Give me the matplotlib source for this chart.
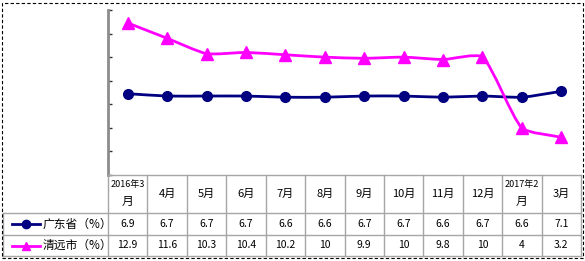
import matplotlib
matplotlib.use("Agg")
import matplotlib.pyplot as plt
import numpy as np
from matplotlib.path import Path
from matplotlib.patches import PathPatch, Rectangle

plt.rcParams['font.family'] = ['Noto Sans CJK SC', 'DejaVu Sans']

months = ["2016年3\n月", "4月", "5月", "6月", "7月", "8月", "9月", "10月", "11月", "12月", "2017年2\n月", "3月"]
guangdong = [6.9, 6.7, 6.7, 6.7, 6.6, 6.6, 6.7, 6.7, 6.6, 6.7, 6.6, 7.1]
qingyuan = [12.9, 11.6, 10.3, 10.4, 10.2, 10, 9.9, 10, 9.8, 10, 4, 3.2]
guangdong_txt = ["6.9", "6.7", "6.7", "6.7", "6.6", "6.6", "6.7", "6.7", "6.6", "6.7", "6.6", "7.1"]
qingyuan_txt = ["12.9", "11.6", "10.3", "10.4", "10.2", "10", "9.9", "10", "9.8", "10", "4", "3.2"]
series_names = ["广东省（%）", "清远市（%）"]
colors = ["#000080", "#FF00FF"]

W, H = 585, 261
fig = plt.figure(figsize=(W / 100, H / 100), dpi=100)

L, R, T, B = 108, 581, 10, 175
ax = fig.add_axes([L / W, (H - B) / H, (R - L) / W, (B - T) / H])
n = len(months)
x = np.arange(n)
ax.set_xlim(-0.5, n - 0.5)
ax.set_ylim(0, 14)
ax.set_yticks(np.arange(0, 15, 2))
ax.tick_params(axis='y', direction='in', length=3, width=1, color='#333333', labelleft=False)
ax.tick_params(axis='x', length=0, labelbottom=False)
for s in ['top', 'right', 'bottom']:
    ax.spines[s].set_visible(False)
ax.spines['left'].set_color('#8c8c8c')
ax.spines['left'].set_linewidth(2)

# pixel scale factors for length-weighted smoothing
sx = (R - L) / n
sy = (B - T) / 14.0


def smooth_path(xs, ys, k=0.2):
    pts = np.column_stack([np.asarray(xs, float) * sx, np.asarray(ys, float) * sy])
    m = len(pts)
    verts = [pts[0]]
    codes = [Path.MOVETO]
    cin = [None] * m
    cout = [None] * m
    for i in range(m):
        p0 = pts[i - 1] if i > 0 else pts[i]
        p2 = pts[i + 1] if i + 1 < m else pts[i]
        tan = p2 - p0
        d_in = np.hypot(*(pts[i] - p0))
        d_out = np.hypot(*(p2 - pts[i]))
        tot = d_in + d_out
        cin[i] = pts[i] - tan * (d_in / tot) * k
        cout[i] = pts[i] + tan * (d_out / tot) * k
    for i in range(m - 1):
        verts += [cout[i], cin[i + 1], pts[i + 1]]
        codes += [Path.CURVE4] * 3
    verts = np.array(verts)
    verts[:, 0] /= sx
    verts[:, 1] /= sy
    return Path(verts, codes)


markers = ['o', '^']
for vals, col, mk in zip([guangdong, qingyuan], colors, markers):
    patch = PathPatch(smooth_path(x, vals), fill=False, edgecolor=col, lw=2, zorder=3)
    ax.add_patch(patch)
    ax.plot(x, vals, linestyle='none', marker=mk, color=col, markersize=7 if mk == 'o' else 8, zorder=4)

# table
TL, TB = 3, 256
tax = fig.add_axes([TL / W, (H - TB) / H, (R - TL) / W, (TB - B) / H])
colw = (R - L) / n
x0 = -0.5 - (L - TL) / colw
tax.set_xlim(x0, n - 0.5)
tax.set_ylim(TB - B, 0)
tax.axis('off')
gc = '#a6a6a6'
rows = [0, 38, 60, 81]
tax.plot([-0.5, n - 0.5], [rows[0], rows[0]], color=gc, lw=1, clip_on=False)
for r in rows[1:]:
    tax.plot([x0, n - 0.5], [r, r], color=gc, lw=1, clip_on=False)
for i in range(n + 1):
    tax.plot([i - 0.5, i - 0.5], [rows[0], rows[3]], color=gc, lw=1, clip_on=False)
tax.plot([x0, x0], [rows[1], rows[3]], color=gc, lw=1, clip_on=False)

for i, lab in enumerate(months):
    if "\n" in lab:
        top, bot = lab.split("\n")
        tax.text(i, 10, top, ha='center', va='center', fontsize=6.5, color='#000000')
        tax.text(i, 26, bot, ha='center', va='center', fontsize=8.5, color='#000000')
    else:
        tax.text(i, 19, lab, ha='center', va='center', fontsize=8, color='#000000')
    tax.text(i, 49, guangdong_txt[i], ha='center', va='center', fontsize=7.5, color='#000000')
    tax.text(i, 70.5, qingyuan_txt[i], ha='center', va='center', fontsize=7.5, color='#000000')

for name, col, mk, yc in zip(series_names, colors, markers, [49, 70.5]):
    kx0 = x0 + 9 / colw
    kx1 = x0 + 37 / colw
    tax.plot([kx0, kx1], [yc, yc], color=col, lw=2, clip_on=False)
    tax.plot([(kx0 + kx1) / 2], [yc], marker=mk, color=col, markersize=6, clip_on=False)
    tax.text(x0 + 40 / colw, yc, name, ha='left', va='center', fontsize=8.5, color='#000000')

fig.patches.append(Rectangle((2 / W, 3 / H), 581 / W, 255 / H, transform=fig.transFigure,
                             fill=False, edgecolor='#000000', lw=0.8, linestyle=(0, (3, 2))))

fig.savefig("out.png", dpi=100)
